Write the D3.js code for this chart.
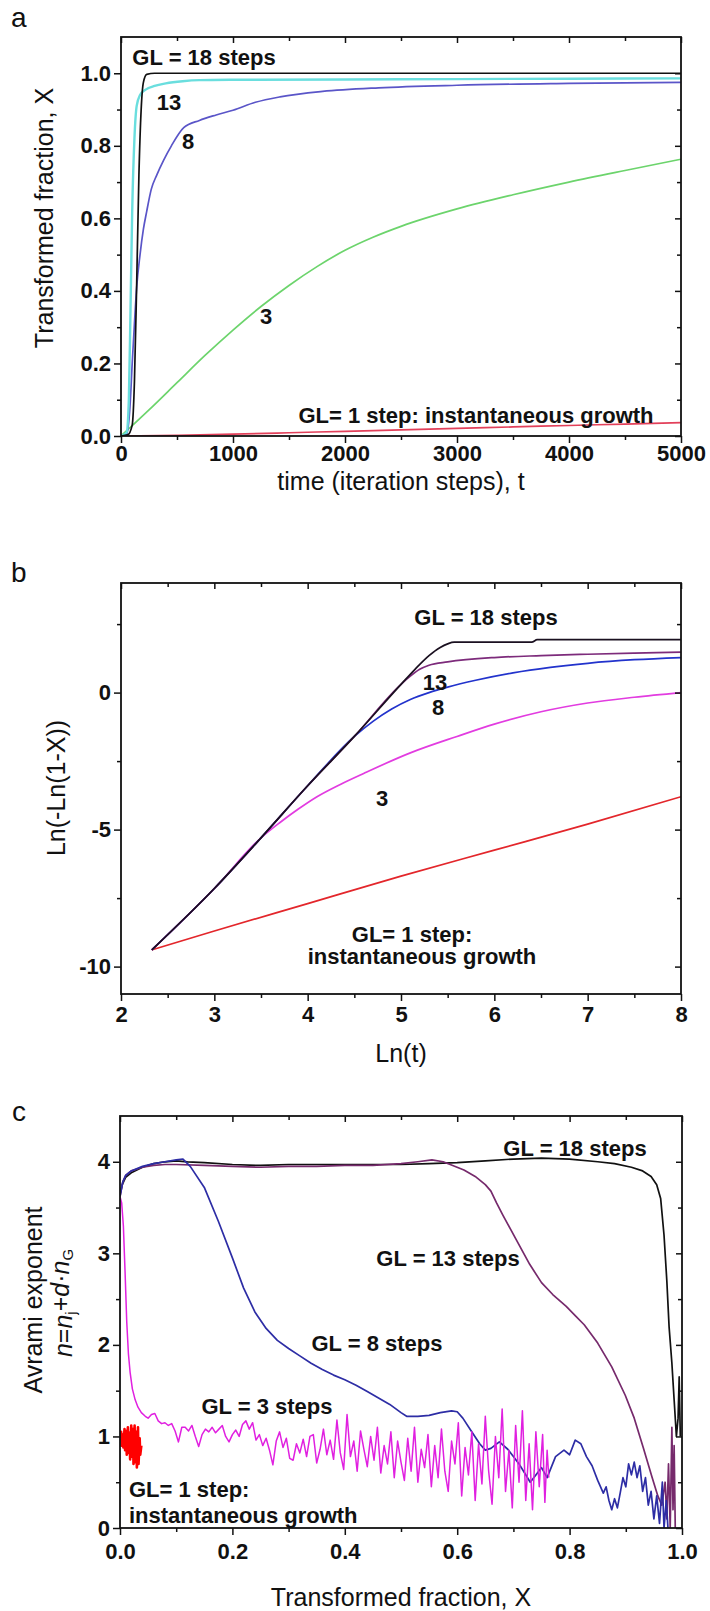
<!DOCTYPE html>
<html>
<head>
<meta charset="utf-8">
<script src="https://cdn.jsdelivr.net/npm/d3@7"></script>
<style>
  body { margin: 0; background: #fff; }
  svg { display: block; }
  text { font-family: "Liberation Sans", Arial, sans-serif; fill: #111; }
  .tick text { font: bold 22px "Liberation Sans", Arial, sans-serif; fill: #111; }
  .tick line { stroke: #111; stroke-width: 1.5; }
  .note { font-weight: bold; font-size: 22px; }
  .title { font-size: 25px; }
  .letter { font-size: 28px; }
</style>
</head>
<body>
<svg id="fig" width="710" height="1611"></svg>
<script>
// ---- panel a : X vs t ----
const tA18 = [0, 60, 100, 120, 140, 160, 180, 200, 230, 300, 1000, 5000];
const xA18 = [0, 0.003, 0.03, 0.15, 0.42, 0.72, 0.9, 0.975, 0.997, 1.0, 1.0, 1.0];
const tA13 = [0, 50, 70, 85, 100, 120, 140, 170, 220, 300, 400, 550, 700, 1000, 2000, 3000, 4000, 5000];
const xA13 = [0, 0.01, 0.1, 0.35, 0.62, 0.82, 0.91, 0.94, 0.955, 0.965, 0.972, 0.978, 0.981, 0.982, 0.983, 0.984, 0.985, 0.986];
const tA8 = [0, 50, 80, 100, 120, 140, 170, 200, 230, 270, 320, 380, 450, 560, 700, 850, 1000, 1200, 1420, 1800, 2300, 3000, 4000, 5000];
const xA8 = [0, 0.005, 0.08, 0.2, 0.31, 0.41, 0.5, 0.57, 0.62, 0.68, 0.72, 0.76, 0.8, 0.85, 0.87, 0.885, 0.898, 0.92, 0.935, 0.95, 0.96, 0.967, 0.972, 0.975];
const tA3 = [0, 250, 500, 750, 1000, 1250, 1500, 1750, 2000, 2250, 2500, 3000, 3500, 4000, 4500, 5000];
const xA3 = [0, 0.072, 0.147, 0.222, 0.292, 0.357, 0.415, 0.467, 0.512, 0.548, 0.578, 0.626, 0.665, 0.700, 0.732, 0.763];
const tA1 = [0, 500, 1000, 1500, 2000, 2500, 3000, 3500, 4000, 4500, 5000];
const xA1 = [0, 0.002, 0.005, 0.009, 0.013, 0.017, 0.021, 0.025, 0.029, 0.033, 0.037];

// ---- panel b : Ln(-Ln(1-X)) vs Ln(t) ----
const lnB18 = [2.33, 3.0, 3.5, 4.0, 4.5, 5.0, 5.15, 5.3, 5.42, 5.5, 5.57, 6.4, 6.46, 8.0];
const yB18 = [-9.39, -7.15, -5.3, -3.4, -1.6, 0.3, 0.85, 1.35, 1.65, 1.78, 1.84, 1.84, 1.93, 1.93];
const lnB13 = [2.33, 3.0, 3.5, 4.0, 4.5, 5.0, 5.1, 5.2, 5.3, 5.5, 6.0, 6.5, 7.0, 7.5, 8.0];
const yB13 = [-9.39, -7.15, -5.3, -3.4, -1.6, 0.3, 0.6, 0.85, 1.0, 1.12, 1.28, 1.35, 1.4, 1.44, 1.48];
const lnB8 = [2.33, 3.0, 3.5, 4.0, 4.5, 4.7, 4.9, 5.1, 5.3, 5.5, 5.8, 6.2, 6.6, 7.0, 7.5, 8.0];
const yB8 = [-9.39, -7.15, -5.3, -3.4, -1.6, -1.05, -0.6, -0.25, 0.0, 0.2, 0.45, 0.72, 0.92, 1.07, 1.2, 1.28];
const lnB3 = [2.33, 3.0, 3.5, 3.7, 3.9, 4.1, 4.35, 4.6, 5.1, 5.6, 6.0, 6.5, 7.0, 7.5, 8.0];
const yB3 = [-9.39, -7.15, -5.3, -4.75, -4.25, -3.8, -3.35, -2.95, -2.2, -1.6, -1.15, -0.7, -0.38, -0.17, 0.0];
const lnB1 = [2.33, 3.0, 4.0, 5.0, 6.0, 7.0, 8.0];
const yB1 = [-9.39, -8.7, -7.7, -6.7, -5.75, -4.8, -3.8];

// ---- panel c : Avrami exponent vs X ----
const xC18 = [0, 0.004, 0.01, 0.02, 0.04, 0.06, 0.08, 0.1, 0.12, 0.15, 0.2, 0.25, 0.3, 0.35, 0.4, 0.45, 0.5, 0.55, 0.6, 0.65, 0.7, 0.75, 0.8, 0.85, 0.88, 0.91, 0.93, 0.945, 0.955, 0.962, 0.968, 0.973, 0.977, 0.982, 0.986, 0.99, 0.993, 0.995, 0.997];
const nC18 = [3.65, 3.75, 3.83, 3.88, 3.94, 3.98, 4.0, 4.01, 4.0, 3.99, 3.97, 3.96, 3.97, 3.97, 3.97, 3.97, 3.97, 3.98, 3.99, 4.01, 4.03, 4.04, 4.03, 4.0, 3.98, 3.94, 3.9, 3.84, 3.75, 3.6, 3.2, 2.7, 2.2, 1.8, 1.4, 1.0, 1.2, 1.65, 1.0];
const xC13 = [0, 0.005, 0.01, 0.02, 0.04, 0.06, 0.08, 0.1, 0.15, 0.2, 0.25, 0.3, 0.35, 0.4, 0.45, 0.5, 0.53, 0.555, 0.575, 0.592, 0.612, 0.632, 0.65, 0.66, 0.67, 0.681, 0.705, 0.729, 0.75, 0.77, 0.794, 0.81, 0.826, 0.85, 0.875, 0.899, 0.915, 0.931, 0.947, 0.957, 0.964, 0.97, 0.973, 0.976, 0.979, 0.982, 0.984, 0.986, 0.988];
const nC13 = [3.62, 3.78, 3.85, 3.9, 3.94, 3.96, 3.97, 3.97, 3.96, 3.95, 3.94, 3.95, 3.95, 3.96, 3.96, 3.98, 4.0, 4.02, 4.0, 3.96, 3.91, 3.84, 3.75, 3.68, 3.55, 3.42, 3.15, 2.88, 2.68, 2.55, 2.42, 2.32, 2.22, 2.02, 1.76, 1.45, 1.2, 0.88, 0.55, 0.35, 0.25, 0.5, 0.1, 0.7, 0.0, 1.1, 0.2, 0.9, 0.0];
const xC8 = [0, 0.005, 0.01, 0.02, 0.04, 0.06, 0.08, 0.1, 0.112, 0.125, 0.15, 0.175, 0.2, 0.22, 0.24, 0.26, 0.28, 0.3, 0.32, 0.34, 0.36, 0.38, 0.4, 0.42, 0.44, 0.46, 0.48, 0.5, 0.51, 0.53, 0.55, 0.57, 0.59, 0.6, 0.61, 0.625, 0.64, 0.65, 0.66, 0.675, 0.69, 0.7, 0.71, 0.72, 0.73, 0.74, 0.75, 0.76, 0.775, 0.79, 0.8, 0.81, 0.82, 0.83, 0.84, 0.85, 0.86, 0.865, 0.87, 0.875, 0.88, 0.885, 0.89, 0.895, 0.9, 0.905, 0.91, 0.915, 0.92, 0.925, 0.93, 0.935, 0.94, 0.945, 0.95, 0.955, 0.96, 0.965, 0.968, 0.972, 0.975];
const nC8 = [3.62, 3.78, 3.85, 3.9, 3.95, 3.98, 4.0, 4.02, 4.03, 3.95, 3.72, 3.35, 2.95, 2.62, 2.36, 2.18, 2.05, 1.96, 1.88, 1.8, 1.73, 1.67, 1.62, 1.56, 1.49, 1.42, 1.35, 1.26, 1.22, 1.22, 1.23, 1.26, 1.28, 1.27, 1.2, 1.06, 0.92, 0.85, 0.87, 0.94, 0.86, 0.78, 0.7, 0.6, 0.5, 0.58, 0.66, 0.55, 0.78, 0.85, 0.8, 0.96, 0.92, 0.78, 0.68, 0.52, 0.38, 0.45, 0.3, 0.2, 0.32, 0.22, 0.38, 0.55, 0.45, 0.7, 0.58, 0.72, 0.55, 0.68, 0.4, 0.55, 0.25, 0.4, 0.1, 0.35, 0.05, 0.5, 0.0, 0.3, 0.0];
const xC3 = [0, 0.003, 0.006, 0.009, 0.012, 0.015, 0.018, 0.022, 0.027, 0.032, 0.038, 0.045, 0.05, 0.056, 0.062, 0.068, 0.074, 0.08, 0.086, 0.092, 0.098, 0.104, 0.11, 0.116, 0.122, 0.128, 0.134, 0.14, 0.146, 0.152, 0.158, 0.164, 0.17, 0.176, 0.182, 0.188, 0.194, 0.2, 0.206, 0.212, 0.218, 0.224, 0.23, 0.236, 0.242, 0.248, 0.254, 0.26, 0.266, 0.272, 0.278, 0.284, 0.29, 0.296, 0.302, 0.308, 0.314, 0.32, 0.326, 0.332, 0.338, 0.344, 0.35, 0.356, 0.362, 0.368, 0.374, 0.38, 0.386, 0.392, 0.398, 0.404, 0.41, 0.416, 0.422, 0.428, 0.434, 0.44, 0.446, 0.452, 0.458, 0.464, 0.47, 0.476, 0.482, 0.488, 0.494, 0.5, 0.506, 0.512, 0.518, 0.524, 0.53, 0.536, 0.542, 0.548, 0.554, 0.56, 0.566, 0.572, 0.578, 0.584, 0.59, 0.596, 0.602, 0.608, 0.614, 0.62, 0.626, 0.632, 0.638, 0.644, 0.65, 0.656, 0.662, 0.668, 0.674, 0.68, 0.686, 0.692, 0.698, 0.704, 0.71, 0.716, 0.722, 0.728, 0.734, 0.74, 0.746, 0.752, 0.756, 0.76, 0.763];
const nC3 = [3.62, 3.55, 3.3, 2.8, 2.25, 1.9, 1.7, 1.52, 1.4, 1.32, 1.26, 1.22, 1.2, 1.24, 1.25, 1.17, 1.14, 1.15, 1.12, 1.14, 1.06, 0.94, 1.1, 1.1, 1.06, 1.12, 1.0, 0.89, 1.02, 1.08, 1.05, 1.1, 1.04, 1.08, 1.12, 1.0, 0.94, 1.02, 1.07, 1.0, 1.13, 1.17, 1.08, 1.15, 0.96, 1.02, 0.9, 0.98, 0.85, 0.69, 0.95, 1.05, 0.88, 0.98, 0.76, 0.74, 0.92, 0.82, 0.97, 0.78, 1.0, 1.02, 0.71, 0.86, 1.08, 0.8, 0.96, 0.75, 1.18, 0.82, 0.64, 1.24, 0.78, 0.95, 0.62, 1.06, 0.86, 0.67, 1.0, 0.74, 1.1, 0.6, 0.9, 0.7, 1.05, 0.55, 0.95, 0.72, 0.52, 0.98, 0.62, 1.1, 0.5, 0.86, 0.66, 1.02, 0.45, 0.9, 0.55, 1.08, 0.62, 0.4, 0.95, 0.7, 1.15, 0.35, 0.88, 0.58, 1.05, 0.3, 0.92, 0.48, 1.22, 0.62, 0.26, 1.0, 0.55, 1.3, 0.4, 0.85, 0.22, 1.12, 0.5, 1.28, 0.3, 0.92, 0.2, 1.05, 0.45, 1.02, 0.28, 0.85, 0.55];
const xC1 = [0, 0.002, 0.003, 0.005, 0.006, 0.008, 0.009, 0.011, 0.012, 0.014, 0.015, 0.017, 0.018, 0.02, 0.021, 0.023, 0.024, 0.026, 0.027, 0.029, 0.03, 0.032, 0.033, 0.035, 0.036, 0.038];
const nC1 = [0.98, 1.05, 0.9, 1.02, 0.88, 1.08, 0.85, 1.06, 0.8, 1.1, 0.82, 1.04, 0.75, 1.12, 0.78, 1.08, 0.7, 1.12, 0.72, 1.05, 0.66, 1.1, 0.7, 0.98, 0.8, 0.9];

const svg = d3.select('#fig');

function zip(xs, ys) {
  return xs.map((v, i) => [v, ys[i]]);
}

function drawPanel(p) {
  const x = d3.scaleLinear().domain(p.xDomain).range([p.left, p.right]);
  const y = d3.scaleLinear().domain(p.yDomain).range([p.bottom, p.top]);
  const g = svg.append('g');

  // clip for the curves
  const clipId = 'clip-' + p.letter;
  svg.append('clipPath').attr('id', clipId)
    .append('rect')
    .attr('x', p.left).attr('y', p.top)
    .attr('width', p.right - p.left).attr('height', p.bottom - p.top);

  const line = d3.line().x(d => x(d[0])).y(d => y(d[1])).curve(p.curve || d3.curveLinear);
  const curves = g.append('g').attr('clip-path', `url(#${clipId})`);
  p.series.forEach(s => {
    curves.append('path')
      .datum(zip(s.xs, s.ys))
      .attr('d', line)
      .attr('fill', 'none')
      .attr('stroke', s.color)
      .attr('stroke-width', s.width || 1.7)
      .attr('stroke-linejoin', 'round');
  });

  // major / minor ticks on all four sides
  const xMinor = p.xMinor, yMinor = p.yMinor;
  const axes = [
    [d3.axisBottom(x).tickValues(p.xMajor).tickSize(7).tickPadding(p.xPad).tickFormat(p.xFmt), `translate(0,${p.bottom})`],
    [d3.axisBottom(x).tickValues(xMinor).tickSize(4).tickFormat(''), `translate(0,${p.bottom})`],
    [d3.axisLeft(y).tickValues(p.yMajor).tickSize(7).tickPadding(3).tickFormat(p.yFmt), `translate(${p.left},0)`],
    [d3.axisLeft(y).tickValues(yMinor).tickSize(4).tickFormat(''), `translate(${p.left},0)`],
    [d3.axisTop(x).tickValues(p.xMajor).tickSize(-6).tickFormat(''), `translate(0,${p.top})`],
    [d3.axisTop(x).tickValues(xMinor).tickSize(-4).tickFormat(''), `translate(0,${p.top})`],
    [d3.axisRight(y).tickValues(p.yMajor).tickSize(-6).tickFormat(''), `translate(${p.right},0)`],
    [d3.axisRight(y).tickValues(yMinor).tickSize(-4).tickFormat(''), `translate(${p.right},0)`]
  ];
  axes.forEach(([ax, tr]) => {
    const a = g.append('g').attr('transform', tr).call(ax);
    a.attr('font-size', null).attr('font-family', null);
    a.select('.domain').remove();
  });

  g.append('rect')
    .attr('x', p.left).attr('y', p.top)
    .attr('width', p.right - p.left).attr('height', p.bottom - p.top)
    .attr('fill', 'none').attr('stroke', '#111').attr('stroke-width', 1.8);

  // panel letter
  svg.append('text').attr('class', 'letter')
    .attr('x', p.letterPos[0]).attr('y', p.letterPos[1]).text(p.letter);

  // axis titles
  svg.append('text').attr('class', 'title')
    .attr('x', (p.left + p.right) / 2).attr('y', p.xTitleY)
    .attr('dy', '0.35em').attr('text-anchor', 'middle').text(p.xTitle);

  p.notes.forEach(n => {
    svg.append('text').attr('class', 'note')
      .attr('x', n[1]).attr('y', n[2]).attr('dy', '0.35em')
      .attr('text-anchor', n[3] || 'middle').text(n[0]);
  });

  return { x, y };
}

const fmt1 = d3.format('.1f');
const fmtInt = d => String(d);

// panel a
drawPanel({
  letter: 'a', letterPos: [11, 27],
  left: 121, right: 681, top: 37, bottom: 436,
  xDomain: [0, 5000], yDomain: [0, 1.1],
  xMajor: [0, 1000, 2000, 3000, 4000, 5000], xMinor: [500, 1500, 2500, 3500, 4500],
  yMajor: [0, 0.2, 0.4, 0.6, 0.8, 1.0], yMinor: [0.1, 0.3, 0.5, 0.7, 0.9],
  xFmt: fmtInt, yFmt: fmt1, xPad: 2,
  xTitle: 'time (iteration steps), t', xTitleY: 481,
  curve: d3.curveMonotoneX,
  series: [
    { xs: tA1, ys: xA1, color: '#e2405a' },
    { xs: tA3, ys: xA3, color: '#6cd46c' },
    { xs: tA8, ys: xA8, color: '#5a55c8' },
    { xs: tA13, ys: xA13, color: '#6adede', width: 2.4 },
    { xs: tA18, ys: xA18, color: '#111' }
  ],
  notes: [
    ['GL = 18 steps', 204, 57], ['13', 169, 102], ['8', 188, 141], ['3', 266, 316],
    ['GL= 1 step: instantaneous growth', 476, 415]
  ]
});

// panel b
drawPanel({
  letter: 'b', letterPos: [11, 582],
  left: 121, right: 681, top: 583, bottom: 994,
  xDomain: [2, 8], yDomain: [-11, 4],
  xMajor: [2, 3, 4, 5, 6, 7, 8], xMinor: [2.5, 3.5, 4.5, 5.5, 6.5, 7.5],
  yMajor: [-10, -5, 0], yMinor: [-7.5, -2.5, 2.5],
  xFmt: fmtInt, yFmt: fmtInt, xPad: 5,
  xTitle: 'Ln(t)', xTitleY: 1053,
  curve: d3.curveMonotoneX,
  series: [
    { xs: lnB1, ys: yB1, color: '#e3262b' },
    { xs: lnB3, ys: yB3, color: '#e23ce0' },
    { xs: lnB8, ys: yB8, color: '#2233cc' },
    { xs: lnB13, ys: yB13, color: '#7d2b7b' },
    { xs: lnB18, ys: yB18, color: '#1a1020' }
  ],
  notes: [
    ['GL = 18 steps', 486, 617], ['13', 435, 682], ['8', 438, 707], ['3', 382, 798],
    ['GL= 1 step:', 412, 934], ['instantaneous growth', 422, 956]
  ]
});

// panel c
drawPanel({
  letter: 'c', letterPos: [12, 1121],
  left: 120, right: 682, top: 1116, bottom: 1528,
  xDomain: [0, 1], yDomain: [0, 4.5],
  xMajor: [0, 0.2, 0.4, 0.6, 0.8, 1.0], xMinor: [0.1, 0.3, 0.5, 0.7, 0.9],
  yMajor: [0, 1, 2, 3, 4], yMinor: [0.5, 1.5, 2.5, 3.5],
  xFmt: fmt1, yFmt: fmtInt, xPad: 8,
  xTitle: 'Transformed fraction, X', xTitleY: 1597,
  series: [
    { xs: xC18, ys: nC18, color: '#111' },
    { xs: xC13, ys: nC13, color: '#762a6c' },
    { xs: xC8, ys: nC8, color: '#2d2da5' },
    { xs: xC3, ys: nC3, color: '#e020e0', width: 1.5 },
    { xs: xC1, ys: nC1, color: '#ff0000', width: 2.6 }
  ],
  notes: [
    ['GL = 18 steps', 575, 1148], ['GL = 13 steps', 448, 1258], ['GL = 8 steps', 377, 1343],
    ['GL = 3 steps', 267, 1406], ['GL= 1 step:', 129, 1489, 'start'], ['instantaneous growth', 129, 1515, 'start']
  ]
});

// rotated y-axis titles
function yTitle(txt, cx, cy) {
  return svg.append('text').attr('class', 'title')
    .attr('transform', `translate(${cx},${cy}) rotate(-90)`)
    .attr('dy', '0.35em').attr('text-anchor', 'middle').text(txt);
}
yTitle('Transformed fraction, X', 44, 218);
yTitle('Ln(-Ln(1-X))', 56, 788);
yTitle('Avrami exponent', 33, 1300);

const avr = svg.append('text').attr('class', 'title')
  .attr('transform', 'translate(63,1303) rotate(-90)')
  .attr('dy', '0.35em').attr('text-anchor', 'middle');
avr.append('tspan').attr('font-style', 'italic').text('n');
avr.append('tspan').text('=');
avr.append('tspan').attr('font-style', 'italic').text('n');
avr.append('tspan').attr('font-size', 15).attr('dy', '0.3em').text('j');
avr.append('tspan').attr('dy', '-0.3em').text('+');
avr.append('tspan').attr('font-style', 'italic').text('d');
avr.append('tspan').text('·');
avr.append('tspan').attr('font-style', 'italic').text('n');
avr.append('tspan').attr('font-size', 15).attr('dy', '0.3em').text('G');
</script>
</body>
</html>
